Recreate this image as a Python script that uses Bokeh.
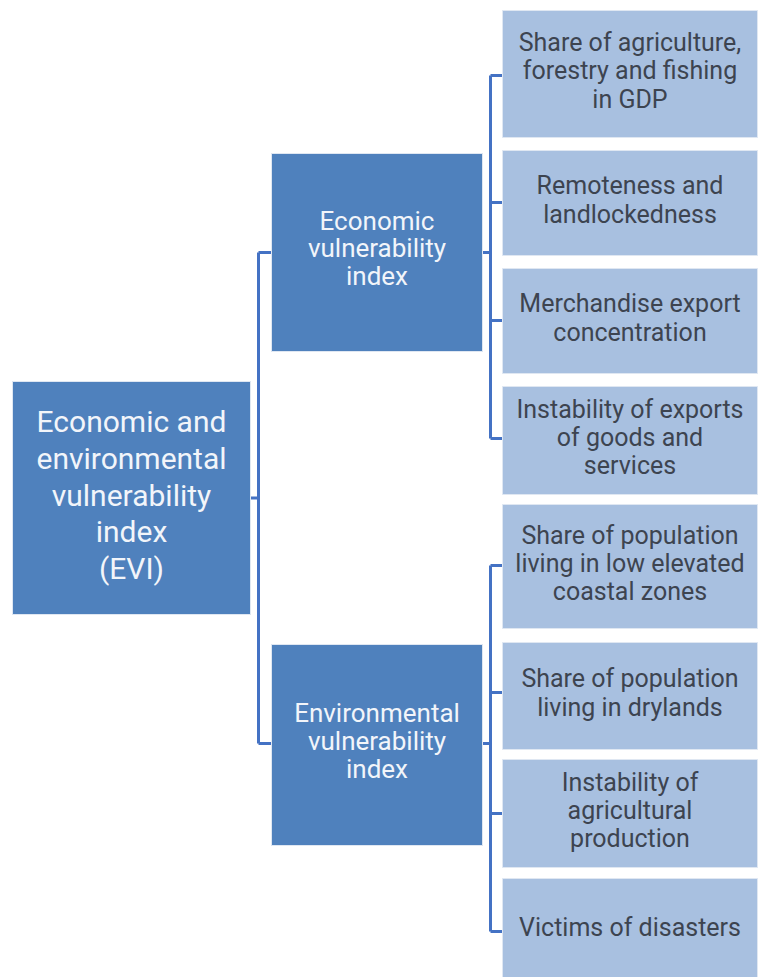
from bokeh.plotting import figure
from bokeh.models import Range1d, ColumnDataSource
from bokeh.core.properties import value
from bokeh.embed import file_html
from bokeh.resources import INLINE

# ---- content ----
root_label = ["Economic and\nenvironmental\nvulnerability\nindex\n(EVI)"]
mid_labels = ["Economic\nvulnerability\nindex", "Environmental\nvulnerability\nindex"]
leaf_labels = [
    "Share of agriculture,\nforestry and fishing\nin GDP",
    "Remoteness and\nlandlockedness",
    "Merchandise export\nconcentration",
    "Instability of exports\nof goods and\nservices",
    "Share of population\nliving in low elevated\ncoastal zones",
    "Share of population\nliving in drylands",
    "Instability of\nagricultural\nproduction",
    "Victims of disasters",
]
leaf_parent = [0, 0, 0, 0, 1, 1, 1, 1]

# ---- layout (page pixel coordinates) ----
W, H = 763, 977
root_box = (12, 250, 381, 614)          # left, right, top, bottom
mid_boxes = [(271, 482, 153, 351), (271, 482, 644, 845)]
leaf_x = (502, 757)
leaf_tb = [(10, 137), (150, 255), (268, 373), (386, 494),
           (504, 628), (642, 749), (759, 867), (878, 990)]
leaf_link_y = [75, 202, 320, 438, 565, 692, 813, 931]
mid_link_y = [252, 743]
x_trunk_left = 258
x_trunk_right = 490

DARK = "#4f81bd"
LIGHT = "#a8c0e0"
LINE = "#4472c4"
FONT = value("Roboto")

p = figure(width=W, height=H, output_backend="svg", toolbar_location=None,
           x_range=Range1d(0, W), y_range=Range1d(H, 0),
           min_border=0, outline_line_color=None)
p.xaxis.visible = False
p.yaxis.visible = False
p.grid.visible = False
p.background_fill_color = "white"

# ---- connectors ----
xs, ys = [], []
root_mid_y = (root_box[2] + root_box[3]) / 2
xs.append([root_box[1], x_trunk_left]); ys.append([root_mid_y, root_mid_y])
xs.append([x_trunk_left, x_trunk_left]); ys.append([mid_link_y[0], mid_link_y[1]])
for i, b in enumerate(mid_boxes):
    xs.append([x_trunk_left, b[0]]); ys.append([mid_link_y[i], mid_link_y[i]])
    xs.append([b[1], x_trunk_right]); ys.append([mid_link_y[i], mid_link_y[i]])
    kids = [leaf_link_y[j] for j in range(len(leaf_labels)) if leaf_parent[j] == i]
    xs.append([x_trunk_right, x_trunk_right]); ys.append([min(kids), max(kids)])
for j, yl in enumerate(leaf_link_y):
    xs.append([x_trunk_right, leaf_x[0]]); ys.append([yl, yl])
p.multi_line(xs=xs, ys=ys, line_color=LINE, line_width=3)

# ---- boxes ----
def boxes(bl, color):
    src = ColumnDataSource(dict(
        left=[b[0] for b in bl], right=[b[1] for b in bl],
        top=[b[2] for b in bl], bottom=[b[3] for b in bl]))
    p.quad(left="left", right="right", top="top", bottom="bottom", source=src,
           fill_color=color, line_color="#dfe7f2", line_width=1)

boxes([root_box], DARK)
boxes(mid_boxes, DARK)
boxes([(leaf_x[0], leaf_x[1], t, b) for t, b in leaf_tb], LIGHT)

# ---- texts ----
p.text(x=[(root_box[0] + root_box[1]) / 2], y=[root_mid_y - 3], text=root_label,
       text_font=FONT, text_font_size="30px", text_color="#f2f5fa",
       text_align="center", text_baseline="middle", text_line_height=1.05)
p.text(x=[(b[0] + b[1]) / 2 for b in mid_boxes],
       y=[(b[2] + b[3]) / 2 - 4 for b in mid_boxes], text=mid_labels,
       text_font=FONT, text_font_size="26px", text_color="#f2f5fa",
       text_align="center", text_baseline="middle", text_line_height=0.93)
leaf_cy = [(t + min(b, 977)) / 2 - 3 for t, b in leaf_tb]
leaf_cy[-1] = 927
p.text(x=[(leaf_x[0] + leaf_x[1]) / 2] * len(leaf_labels), y=leaf_cy,
       text=leaf_labels, text_font=FONT, text_font_size="25px",
       text_color="#3d4450", text_align="center", text_baseline="middle",
       text_line_height=0.98)

open("out.html", "w").write(file_html(p, INLINE))
